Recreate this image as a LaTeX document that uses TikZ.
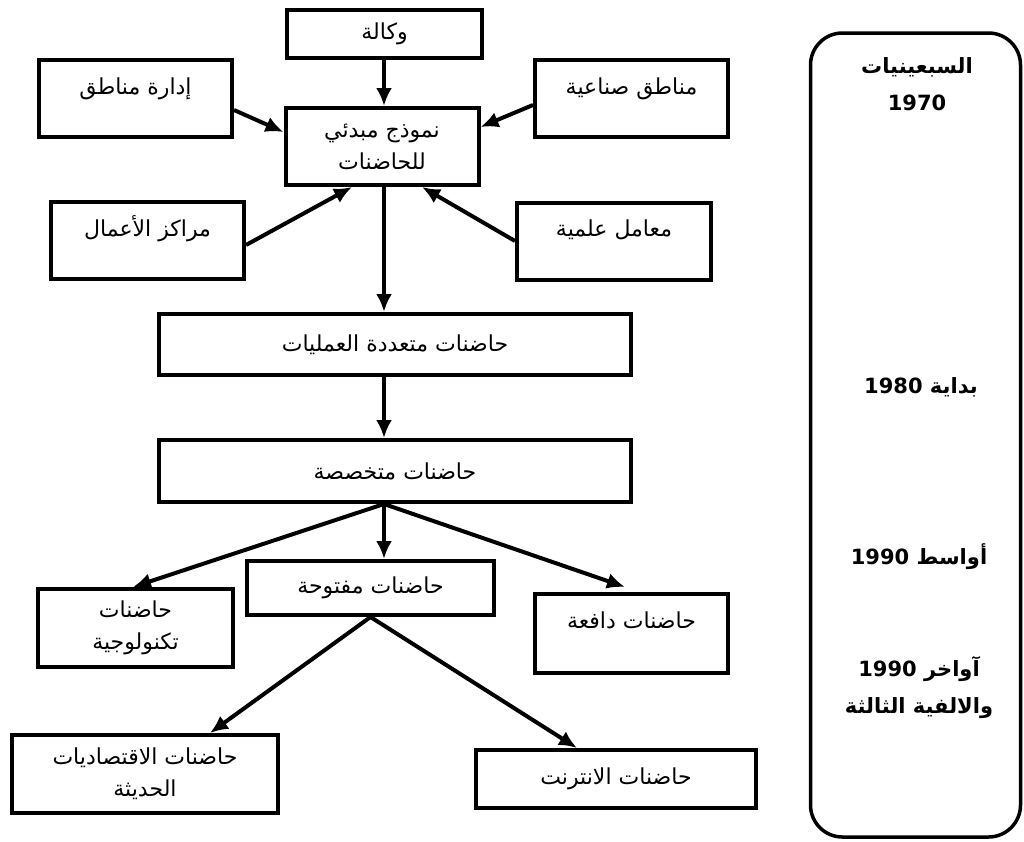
\documentclass[tikz,border=0pt]{standalone}
\usepackage{fontspec}
\newfontfamily\arabicfont[Script=Arabic]{DejaVu Sans}
\TeXXeTstate=1
\usetikzlibrary{arrows.meta}
\newcommand{\artext}[1]{\beginR #1\endR}
\newcommand{\yr}[1]{\beginL #1\endL{}}

\begin{document}
\begin{tikzpicture}[x=1pt,y=-1pt,->,>={Latex[length=18pt,width=16pt]},line width=4pt,
   box/.style={draw,inner sep=0pt,font=\arabicfont\fontsize{22}{32}\selectfont,align=center},
   topbox/.style={box,text height=34pt,text depth=43pt},
   eratext/.style={font=\arabicfont\bfseries\fontsize{21}{37}\selectfont,align=center}]
   \useasboundingbox (0,0) rectangle (1024,841);
   \coordinate (spine) at (384,0);
   \node[box,minimum width=195pt,minimum height=48pt] (wakala) at (384.5,34) {\artext{وكالة}};
   \node[topbox,minimum width=193pt] (idara) at (135.5,98.5) {\artext{إدارة مناطق}};
   \node[box,minimum width=193pt,minimum height=77pt] (namudhaj) at (382,146.5) {\artext{نموذج مبدئي}\\\artext{للحاضنات}};
   \node[topbox,minimum width=193pt] (sinaia) at (631.5,98.5) {\artext{مناطق صناعية}};
   \node[topbox,minimum width=193pt] (markaz) at (147.5,240.5) {\artext{مراكز الأعمال}};
   \node[topbox,minimum width=194pt] (ilmia) at (614,241) {\artext{معامل علمية}};
   \node[box,minimum width=472pt,minimum height=61pt] (multi) at (395,344.5) {\artext{حاضنات متعددة العمليات}};
   \node[box,minimum width=472pt,minimum height=62pt] (spec) at (395,471) {\artext{حاضنات متخصصة}};
   \node[box,minimum width=247pt,minimum height=54pt] (open) at (370.5,588) {\artext{حاضنات مفتوحة}};
   \node[box,minimum width=195pt,minimum height=78pt] (tech) at (135.5,628) {\artext{حاضنات}\\\artext{تكنولوجية}};
   \node[topbox,minimum width=193pt,text depth=45pt] (dafia) at (631.5,633.5) {\artext{حاضنات دافعة}};
   \node[box,minimum width=266pt,minimum height=78pt] (econ) at (145,774) {\artext{حاضنات الاقتصاديات}\\\artext{الحديثة}};
   \node[box,minimum width=280pt,minimum height=58pt] (internet) at (616,779) {\artext{حاضنات الانترنت}};
   \node[draw,line width=3.5pt,rounded corners=32pt,inner sep=0pt,minimum width=210pt,minimum height=804pt] (period) at (915.5,435) {};
   \node[eratext] (seventies) at (917,84) {\artext{السبعينيات}\\\yr{1970}};
   \node[eratext] (early80) at (921,387) {\artext{بداية \yr{1980}}};
   \node[eratext] (mid90) at (919,557) {\artext{أواسط \yr{1990}}};
   \node[eratext] (late90) at (919,687.5) {\artext{آواخر \yr{1990}}\\\artext{والالفية الثالثة}};
  \path (wakala.south -| spine) edge (namudhaj.north -| spine);
  \path ([yshift=-11.5pt]idara.east) edge ([yshift=14.5pt]namudhaj.west);
  \path ([yshift=-6.5pt]sinaia.west) edge ([yshift=19.5pt]namudhaj.east);
  \path ([yshift=-4.5pt]markaz.east) edge ([xshift=-30pt]namudhaj.south);
  \path (ilmia.west) edge ([xshift=40pt]namudhaj.south);
  \path (namudhaj.south -| spine) edge (multi.north -| spine);
  \path (multi.south -| spine) edge (spec.north -| spine);
  \path (spec.south -| spine) edge (open.north -| spine);
  \path (spec.south -| spine) edge ([xshift=-2.5pt]tech.north);
  \path (spec.south -| spine) edge ([xshift=-6.5pt,yshift=5pt]dafia.north);
  \path (open.south) edge ([xshift=65pt]econ.north);
  \path (open.south) edge ([xshift=-39pt]internet.north);
\end{tikzpicture}
\end{document}
